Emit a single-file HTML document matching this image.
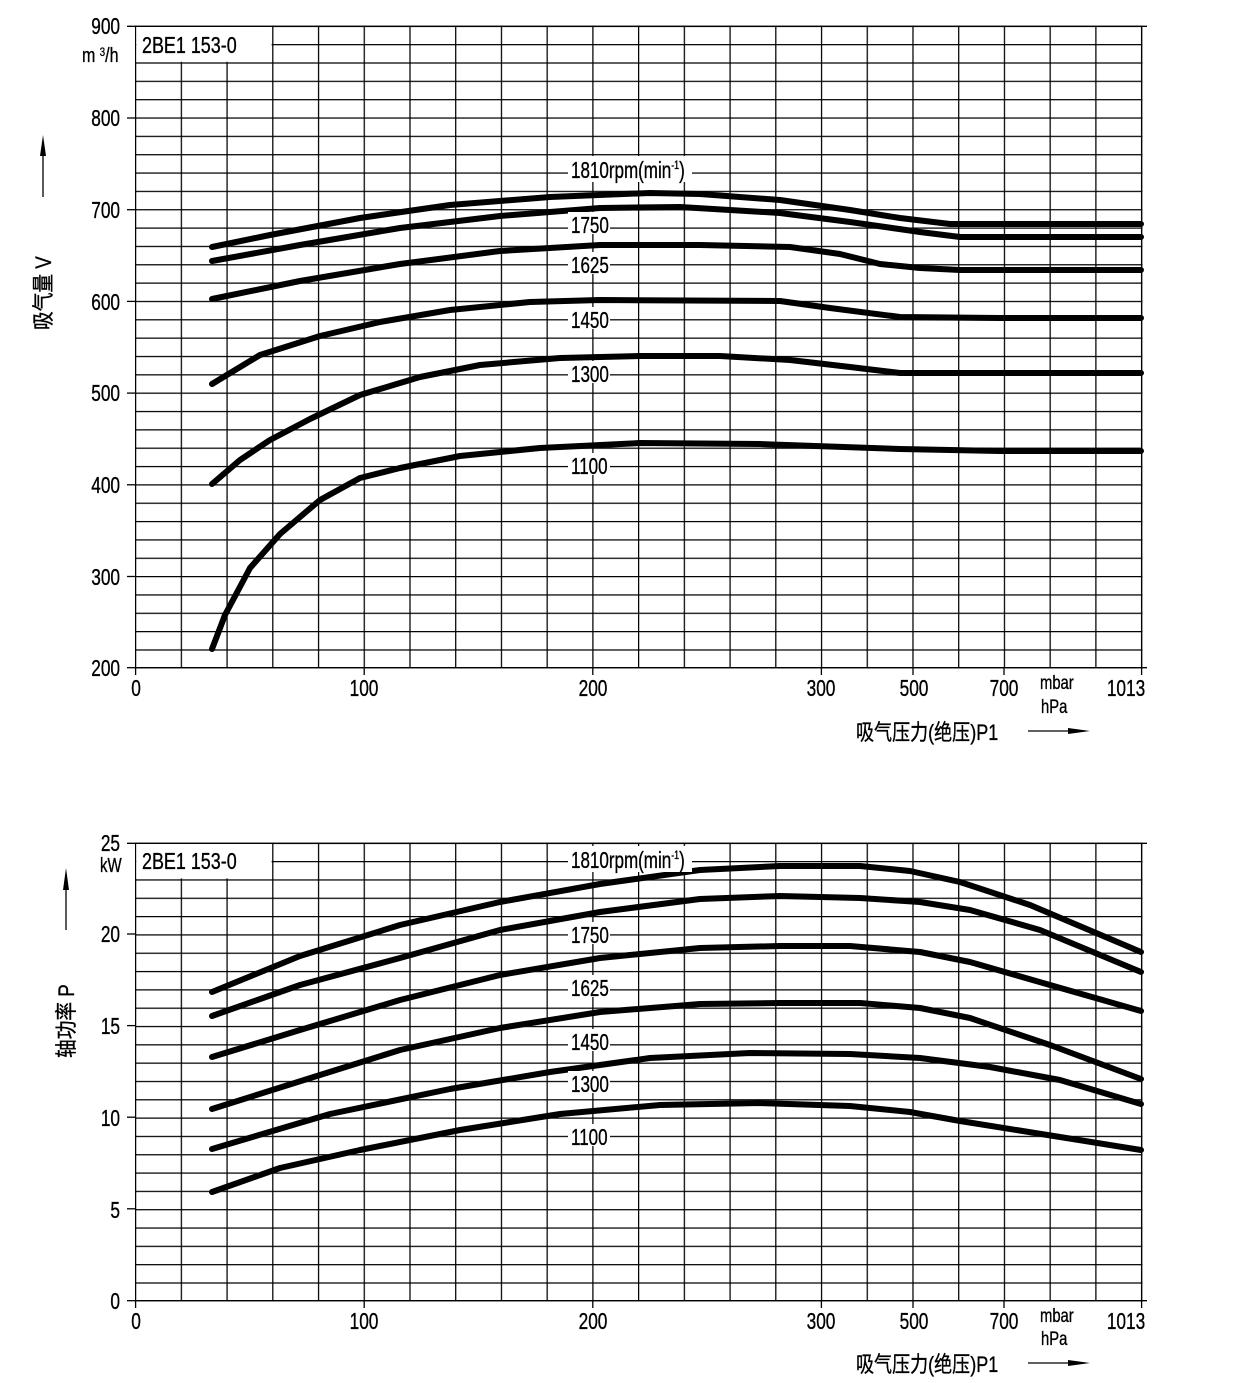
<!DOCTYPE html>
<html><head><meta charset="utf-8"><style>
html,body{margin:0;padding:0;background:#fff;}
svg{display:block;}
text{font-family:"Liberation Sans","Noto Sans CJK SC",sans-serif;fill:#000;stroke:#000;stroke-width:0.35;}
</style></head><body>
<svg width="1242" height="1383" viewBox="0 0 1242 1383" xmlns="http://www.w3.org/2000/svg">
<defs>
<pattern id="g1" patternUnits="userSpaceOnUse" x="135" y="25.7" width="45.727" height="18.343">
<path d="M0 0.6H45.727M0.6 0V18.343" stroke="#000" stroke-width="1.3" fill="none"/>
</pattern>
<pattern id="g2" patternUnits="userSpaceOnUse" x="135" y="842.7" width="45.727" height="18.32">
<path d="M0 0.6H45.727M0.6 0V18.32" stroke="#000" stroke-width="1.3" fill="none"/>
</pattern>
</defs>

<!-- TOP CHART -->
<rect x="135" y="25.7" width="1012" height="642.6" fill="url(#g1)"/>
<rect x="1142.5" y="20" width="10" height="660" fill="#fff"/>
<g stroke="#000" stroke-width="1.3">
<line x1="135" y1="667.7" x2="1147" y2="667.7"/>
<line x1="1141.6" y1="25.7" x2="1141.6" y2="675"/>
<line x1="127" y1="26.3" x2="1147" y2="26.3"/>
</g>
<rect x="136.3" y="27" width="135.3" height="34.8" fill="#fff"/>
<g stroke="#000" stroke-width="1.3">
<line x1="127" y1="118" x2="136" y2="118"/><line x1="127" y1="209.7" x2="136" y2="209.7"/>
<line x1="127" y1="301.4" x2="136" y2="301.4"/><line x1="127" y1="393.1" x2="136" y2="393.1"/>
<line x1="127" y1="484.8" x2="136" y2="484.8"/><line x1="127" y1="576.5" x2="136" y2="576.5"/>
<line x1="127" y1="667.7" x2="136" y2="667.7"/>
<line x1="135.6" y1="667" x2="135.6" y2="675"/><line x1="364.2" y1="667" x2="364.2" y2="675"/>
<line x1="592.8" y1="667" x2="592.8" y2="675"/><line x1="821.4" y1="667" x2="821.4" y2="675"/>
<line x1="913" y1="667" x2="913" y2="675"/><line x1="1004" y1="667" x2="1004" y2="675"/>
</g>
<g font-size="23" text-anchor="end">
<text transform="translate(120,34) scale(0.75,1)">900</text>
<text transform="translate(120,126) scale(0.75,1)">800</text>
<text transform="translate(120,218) scale(0.75,1)">700</text>
<text transform="translate(120,310) scale(0.75,1)">600</text>
<text transform="translate(120,401) scale(0.75,1)">500</text>
<text transform="translate(120,493) scale(0.75,1)">400</text>
<text transform="translate(120,585) scale(0.75,1)">300</text>
<text transform="translate(120,676) scale(0.75,1)">200</text>
</g>
<text transform="translate(82,62) scale(0.8,1)" font-size="20">m <tspan font-size="12" dy="-6">3</tspan><tspan dy="6">/h</tspan></text>
<text transform="translate(142,53) scale(0.78,1)" font-size="23">2BE1 153-0</text>
<g font-size="23" text-anchor="middle">
<text transform="translate(136,696) scale(0.75,1)">0</text>
<text transform="translate(364,696) scale(0.75,1)">100</text>
<text transform="translate(593,696) scale(0.75,1)">200</text>
<text transform="translate(821,696) scale(0.75,1)">300</text>
<text transform="translate(914,696) scale(0.75,1)">500</text>
<text transform="translate(1004,696) scale(0.75,1)">700</text>
<text transform="translate(1126,696) scale(0.75,1)">1013</text>
</g>
<text transform="translate(1040,689) scale(0.78,1)" font-size="19">mbar</text>
<text transform="translate(1041,713) scale(0.78,1)" font-size="19">hPa</text>
<text transform="translate(856,740) scale(0.82,1)" font-size="22">吸气压力(绝压)P1</text>
<line x1="1028" y1="731" x2="1085" y2="731" stroke="#000" stroke-width="1.3"/>
<polygon points="1068,728 1090,731 1068,734" fill="#000"/>
<line x1="43" y1="197" x2="43" y2="148" stroke="#000" stroke-width="1.3"/>
<polygon points="40,156 43,135 46,156" fill="#000"/>
<text transform="translate(51,330) rotate(-90) scale(0.85,1)" font-size="22">吸气量 V</text>

<g fill="none" stroke="#000" stroke-width="6" stroke-linecap="round" stroke-linejoin="round">
<polyline points="212,247 270,235 360,218 450,205 550,197 650,193 700,194 780,200 850,210 900,218 950,224 1141,224"/>
<polyline points="212,261 300,245 400,228 500,216 600,208 680,207 780,213 850,222 920,232 960,237 1141,237"/>
<polyline points="212,299 300,281 400,264 500,251 600,245 700,245 790,247 840,254 880,264 920,268 960,270 1141,270"/>
<polyline points="212,384 260,355 320,336 380,322 450,310 530,302 600,300 780,301 830,308 900,317 1000,318 1141,318"/>
<polyline points="212,484 240,460 270,440 310,419 360,395 420,377 480,365 560,358 640,356 720,356 790,360 850,367 900,373 1141,373"/>
<polyline points="212,649 225,615 250,568 280,534 320,500 360,478 400,468 460,456 540,448 640,443 760,444 900,449 1000,451 1141,451"/>
</g>
<g fill="#fff">
<rect x="568" y="156" width="124" height="26"/>
<rect x="568" y="212" width="42" height="22"/>
<rect x="568" y="252" width="42" height="22"/>
<rect x="568" y="307" width="42" height="22"/>
<rect x="568" y="361" width="42" height="22"/>
<rect x="568" y="453" width="42" height="22"/>
</g>
<g font-size="23">
<text transform="translate(571,178) scale(0.74,1)">1810rpm(min<tspan font-size="12" dy="-9">-1</tspan><tspan dy="9">)</tspan></text>
<text transform="translate(571,233) scale(0.74,1)">1750</text>
<text transform="translate(571,273) scale(0.74,1)">1625</text>
<text transform="translate(571,328) scale(0.74,1)">1450</text>
<text transform="translate(571,382) scale(0.74,1)">1300</text>
<text transform="translate(571,474) scale(0.74,1)">1100</text>
</g>

<!-- BOTTOM CHART -->
<rect x="135" y="842.7" width="1012" height="458.6" fill="url(#g2)"/>
<rect x="1142.5" y="835" width="10" height="480" fill="#fff"/>
<g stroke="#000" stroke-width="1.3">
<line x1="135" y1="1300.7" x2="1147" y2="1300.7"/>
<line x1="1141.6" y1="842.7" x2="1141.6" y2="1308"/>
<line x1="127" y1="843.3" x2="1147" y2="843.3"/>
</g>
<rect x="136.3" y="844" width="135.3" height="34.4" fill="#fff"/>
<g stroke="#000" stroke-width="1.3">
<line x1="127" y1="934" x2="136" y2="934"/><line x1="127" y1="1025.6" x2="136" y2="1025.6"/>
<line x1="127" y1="1117.2" x2="136" y2="1117.2"/><line x1="127" y1="1208.8" x2="136" y2="1208.8"/>
<line x1="127" y1="1300.7" x2="136" y2="1300.7"/>
<line x1="135.6" y1="1300" x2="135.6" y2="1308"/><line x1="364.2" y1="1300" x2="364.2" y2="1308"/>
<line x1="592.8" y1="1300" x2="592.8" y2="1308"/><line x1="821.4" y1="1300" x2="821.4" y2="1308"/>
<line x1="913" y1="1300" x2="913" y2="1308"/><line x1="1004" y1="1300" x2="1004" y2="1308"/>
</g>
<g font-size="23" text-anchor="end">
<text transform="translate(120,851) scale(0.75,1)">25</text>
<text transform="translate(120,942) scale(0.75,1)">20</text>
<text transform="translate(120,1034) scale(0.75,1)">15</text>
<text transform="translate(120,1126) scale(0.75,1)">10</text>
<text transform="translate(120,1218) scale(0.75,1)">5</text>
<text transform="translate(120,1309) scale(0.75,1)">0</text>
</g>
<text transform="translate(100,872) scale(0.75,1)" font-size="20">kW</text>
<text transform="translate(142,869) scale(0.78,1)" font-size="23">2BE1 153-0</text>
<g font-size="23" text-anchor="middle">
<text transform="translate(136,1329) scale(0.75,1)">0</text>
<text transform="translate(364,1329) scale(0.75,1)">100</text>
<text transform="translate(593,1329) scale(0.75,1)">200</text>
<text transform="translate(821,1329) scale(0.75,1)">300</text>
<text transform="translate(914,1329) scale(0.75,1)">500</text>
<text transform="translate(1004,1329) scale(0.75,1)">700</text>
<text transform="translate(1126,1329) scale(0.75,1)">1013</text>
</g>
<text transform="translate(1040,1322) scale(0.78,1)" font-size="19">mbar</text>
<text transform="translate(1041,1345) scale(0.78,1)" font-size="19">hPa</text>
<text transform="translate(856,1372) scale(0.82,1)" font-size="22">吸气压力(绝压)P1</text>
<line x1="1028" y1="1363" x2="1085" y2="1363" stroke="#000" stroke-width="1.3"/>
<polygon points="1068,1360 1090,1363 1068,1366" fill="#000"/>
<line x1="66" y1="930" x2="66" y2="880" stroke="#000" stroke-width="1.3"/>
<polygon points="63,890 66,868 69,890" fill="#000"/>
<text transform="translate(74,1058) rotate(-90) scale(0.85,1)" font-size="22">轴功率 P</text>

<g fill="none" stroke="#000" stroke-width="6" stroke-linecap="round" stroke-linejoin="round">
<polyline points="212,992 300,956 400,925 500,902 600,884 700,870 780,866 860,866 910,871 960,882 1030,905 1141,952"/>
<polyline points="212,1016 300,985 400,958 500,930 600,912 700,899 780,896 860,898 920,902 970,910 1040,930 1141,972"/>
<polyline points="212,1057 300,1030 400,1000 500,975 600,958 700,948 780,946 850,946 920,952 970,962 1050,985 1141,1011"/>
<polyline points="212,1109 320,1075 400,1050 500,1028 600,1012 700,1004 780,1003 860,1003 920,1008 970,1018 1050,1045 1141,1079"/>
<polyline points="212,1149 330,1114 450,1089 550,1072 650,1058 750,1053 850,1054 920,1058 990,1067 1060,1080 1141,1104"/>
<polyline points="212,1192 280,1168 360,1150 460,1130 560,1114 660,1105 760,1103 850,1106 910,1112 960,1121 1060,1137 1141,1150"/>
</g>
<g fill="#fff">
<rect x="568" y="846" width="124" height="26"/>
<rect x="568" y="922" width="42" height="22"/>
<rect x="568" y="975" width="42" height="22"/>
<rect x="568" y="1029" width="42" height="22"/>
<rect x="568" y="1071" width="42" height="22"/>
<rect x="568" y="1124" width="42" height="22"/>
</g>
<g font-size="23">
<text transform="translate(571,868) scale(0.74,1)">1810rpm(min<tspan font-size="12" dy="-9">-1</tspan><tspan dy="9">)</tspan></text>
<text transform="translate(571,943) scale(0.74,1)">1750</text>
<text transform="translate(571,996) scale(0.74,1)">1625</text>
<text transform="translate(571,1050) scale(0.74,1)">1450</text>
<text transform="translate(571,1092) scale(0.74,1)">1300</text>
<text transform="translate(571,1145) scale(0.74,1)">1100</text>
</g>
</svg>
</body></html>
